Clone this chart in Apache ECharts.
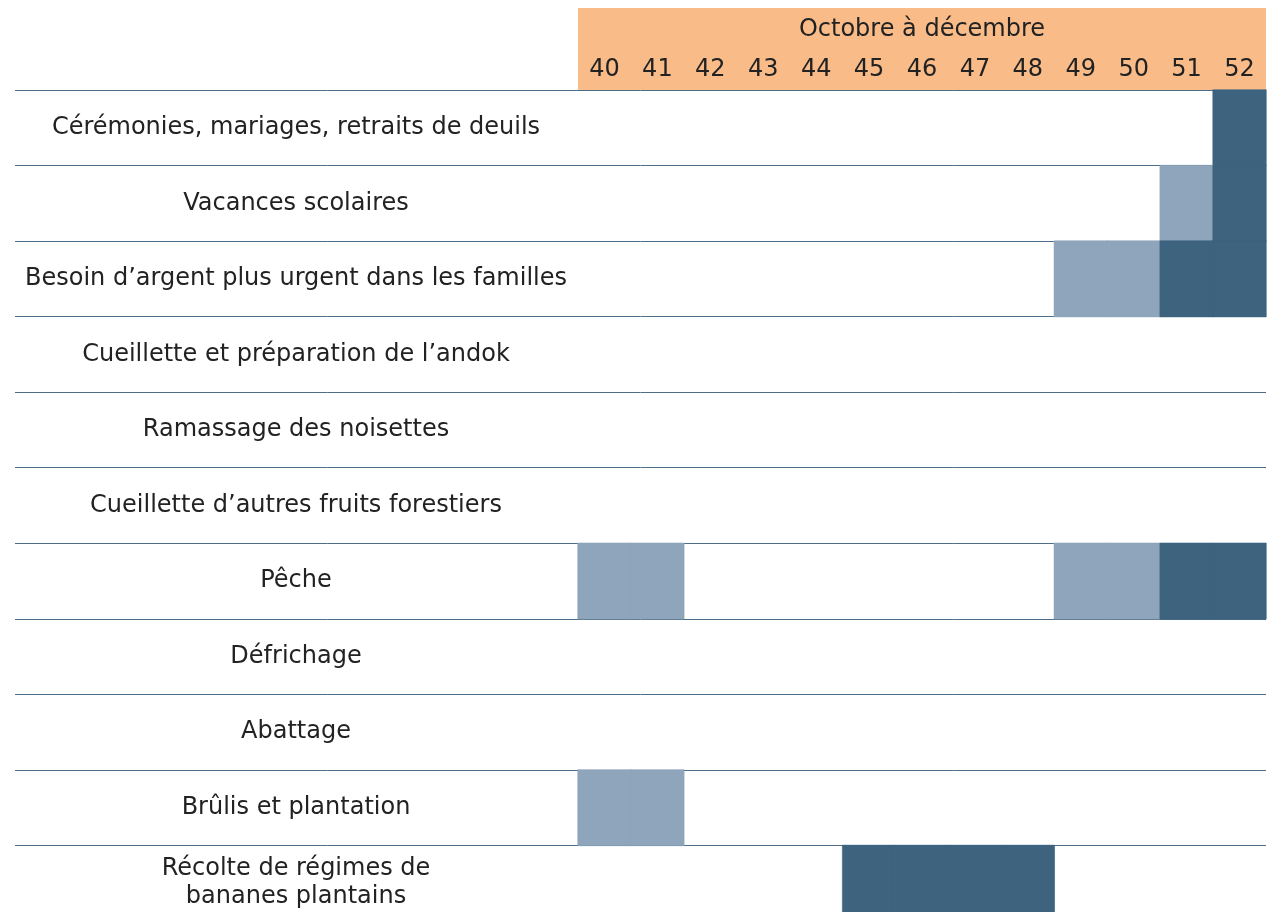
<!DOCTYPE html>
<html>
<head>
    <meta charset="utf-8">
    <title>Calendrier des activités - octobre à décembre</title>
    <script src="https://cdn.jsdelivr.net/npm/echarts@6/dist/echarts.min.js"></script>
    <style>
        html, body {margin:0;padding:0;background:#fff;}
        #chart {width:1287px;height:912px;}
    </style>
</head>
<body>
<div id="chart"></div>
<script>
    var weeks = ['40','41','42','43','44','45','46','47','48','49','50','51','52'];
    var activities = [
        'Cérémonies, mariages, retraits de deuils',
        'Vacances scolaires',
        'Besoin d’argent plus urgent dans les familles',
        'Cueillette et préparation de l’andok',
        'Ramassage des noisettes',
        'Cueillette d’autres fruits forestiers',
        'Pêche',
        'Défrichage',
        'Abattage',
        'Brûlis et plantation',
        'Récolte de régimes de\nbananes plantains'
    ];
    // 0 = rien, 1 = activité moyenne (clair), 2 = activité forte (foncé)
    var intensity = [
        [0,0,0,0,0,0,0,0,0,0,0,0,2],
        [0,0,0,0,0,0,0,0,0,0,0,1,2],
        [0,0,0,0,0,0,0,0,0,1,1,2,2],
        [0,0,0,0,0,0,0,0,0,0,0,0,0],
        [0,0,0,0,0,0,0,0,0,0,0,0,0],
        [0,0,0,0,0,0,0,0,0,0,0,0,0],
        [1,1,0,0,0,0,0,0,0,1,1,2,2],
        [0,0,0,0,0,0,0,0,0,0,0,0,0],
        [0,0,0,0,0,0,0,0,0,0,0,0,0],
        [1,1,0,0,0,0,0,0,0,0,0,0,0],
        [0,0,0,0,0,2,2,2,2,0,0,0,0]
    ];
    var colors = {1: '#8ea5bb', 2: '#3d637f'};

    var cells = [];
    intensity.forEach(function (row, r) {
        row.forEach(function (v, c) {
            if (v > 0) {
                cells.push({
                    value: [c, r, v],
                    itemStyle: {color: colors[v], borderColor: colors[v], borderWidth: 0.6}
                });
            }
        });
    });

    var font = 'DejaVu Sans, Verdana, sans-serif';
    var chart = echarts.init(document.getElementById('chart'));
    chart.setOption({
        backgroundColor: '#fff',
        animation: false,
        textStyle: {fontFamily: font},
        graphic: [{
            type: 'rect',
            z: -10,
            shape: {x: 578, y: 8, width: 688, height: 82},
            style: {fill: '#f9bc89'}
        }],
        grid: [
            {left: 15, width: 1251, top: 90, height: 831, outerBoundsMode: 'none'},
            {left: 578, width: 688, top: 90, height: 831, outerBoundsMode: 'none'}
        ],
        xAxis: [
            {gridIndex: 0, type: 'value', show: false, min: 0, max: 1},
            {
                gridIndex: 1, type: 'category', data: weeks, position: 'top',
                name: 'Octobre à décembre', nameLocation: 'middle', nameGap: 48,
                nameTextStyle: {fontSize: 24, color: '#222', fontFamily: font},
                axisLine: {show: false}, axisTick: {show: false}, splitLine: {show: false},
                axisLabel: {fontSize: 24, color: '#222', margin: 8, fontFamily: font}
            }
        ],
        yAxis: [
            {
                gridIndex: 0, type: 'category', data: activities, inverse: true,
                axisLine: {show: false}, axisTick: {show: false}, axisLabel: {show: false},
                splitLine: {show: true, lineStyle: {color: '#4e6d89', width: 1}}
            },
            {
                gridIndex: 1, type: 'category', data: activities, inverse: true,
                axisLine: {show: false}, axisTick: {show: false}, splitLine: {show: false},
                axisLabel: {
                    fontSize: 24, color: '#222', margin: 282, align: 'center',
                    lineHeight: 28, padding: [4, 0, 0, 0], fontFamily: font
                }
            }
        ],
        series: [{
            type: 'heatmap',
            xAxisIndex: 1,
            yAxisIndex: 1,
            data: cells,
            z: 1
        }]
    });
</script>
</body>
</html>
